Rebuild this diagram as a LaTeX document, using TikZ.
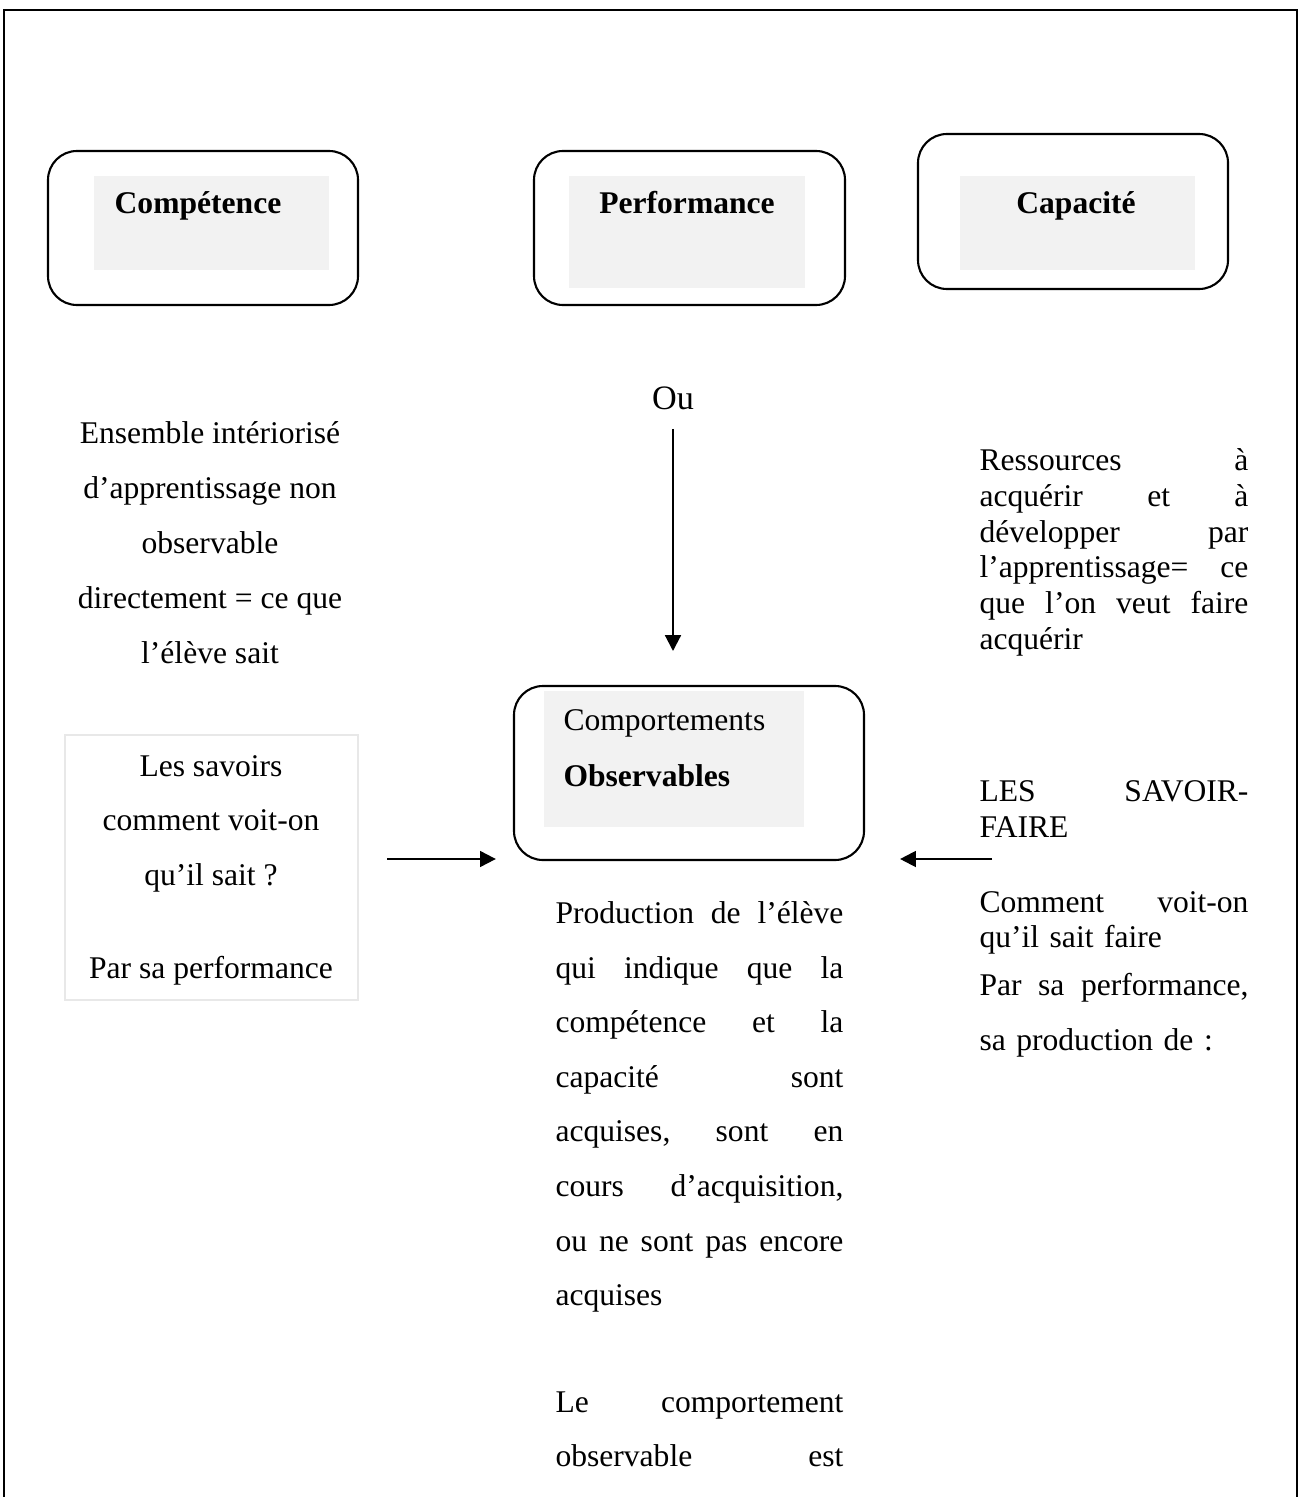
\documentclass[tikz,border=0pt]{standalone}
\usepackage{fontspec}
\setmainfont{Liberation Serif}
\usetikzlibrary{arrows.meta}
\definecolor{panelgrey}{HTML}{F2F2F2}
\definecolor{framegrey}{HTML}{E8E8E8}

\begin{document}
\begin{tikzpicture}[x=0.38pt,y=-0.38pt,
  font=\fontsize{12}{13.3}\selectfont,
  roundbox/.style 2 args={draw,line width=0.8pt,rounded corners=11pt,
    minimum width=#1*0.38pt,minimum height=#2*0.38pt,inner sep=0pt},
  panel/.style 2 args={fill=panelgrey,minimum width=#1*0.38pt,
    minimum height=#2*0.38pt,inner sep=0pt},
  headtext/.style={font=\fontsize{12}{13.3}\selectfont\bfseries,inner sep=0pt},
  bodytext/.style={inner sep=0pt,font=\fontsize{12}{#1}\selectfont},
  arr/.style={line width=0.8pt,-{Triangle[length=6pt,width=6pt]}}]
 \useasboundingbox (0,0) rectangle (1301,1497);
 \draw[line width=0.8pt](4,1497)--(4,10)--(1297,10)--(1297,1497);

 % the three notions
 \node[roundbox={310}{154}] (compbox) at (203,228) {};
 \node[panel={235}{94}] (comppanel) at (211.5,223) {};
 \node[headtext,anchor=base] (comp) at (198,214) {Compétence};
 \node[roundbox={311}{154}] (perfbox) at (689.5,228) {};
 \node[panel={236}{112}] (perfpanel) at (687,232) {};
 \node[headtext,anchor=base] (perf) at (687,214) {Performance};
 \node[roundbox={310}{155}] (capabox) at (1073,211.5) {};
 \node[panel={235}{94}] (capapanel) at (1077.5,223) {};
 \node[headtext,anchor=base] (capa) at (1076,214) {Capacité};

 % definitions
 \node[bodytext=20.9pt,align=center,anchor=north] (ensemble) at (210,421)
  {Ensemble intériorisé\\ d’apprentissage non\\ observable\\ directement = ce que\\ l’élève sait};
 \node[inner sep=0pt,font=\fontsize{13}{14}\selectfont] (ou) at (673,398) {Ou};
 \node[bodytext=13.6pt,text width=102.2pt,align=left,anchor=north west] (ressources) at (979,448)
  {Ressources \hfill à\\ acquérir \hfill et \hfill à\\ développer \hfill par\\ l’apprentissage= \hfill ce\\ que \hfill l’on \hfill veut \hfill faire\\ acquérir};

 % observable behaviour
 \node[roundbox={350}{174}] (obsbox) at (689,773) {};
 \node[panel={260}{136}] (obspanel) at (674,759) {};
 \node[bodytext=21.3pt,align=left,anchor=north west] (obs) at (563,709)
  {Comportements\\ \textbf{Observables}};

 \node[draw=framegrey,line width=0.4pt,minimum width=293*0.38pt,minimum height=265*0.38pt] (savbox) at (211.5,867.5) {};
 \node[bodytext=20.7pt,align=center,anchor=north] (savoirs) at (211,755)
  {Les savoirs\\ comment voit-on\\ qu’il sait~?\\[14.6pt] Par sa performance};

 \node[bodytext=13.6pt,text width=102.2pt,align=left,anchor=north west] (savfaire) at (979,780)
  {LES \hfill SAVOIR-\\ FAIRE};
 \node[bodytext=13.3pt,text width=102.2pt,align=left,anchor=north west] (comment) at (979,891)
  {Comment \hfill voit-on\\ qu’il sait faire};
 \node[bodytext=20.9pt,text width=102.2pt,align=left,anchor=north west] (parsa) at (979,973)
  {Par \hfill sa \hfill performance,\\ sa production de~:};

 \node[bodytext=20.75pt,text width=109.4pt,align=left,anchor=north west] (production) at (555,901)
  {Production \hfill de \hfill l’élève\\ qui \hfill indique \hfill que \hfill la\\ compétence \hfill et \hfill la\\
   capacité \hfill sont\\ acquises, \hfill sont \hfill en\\ cours \hfill d’acquisition,\\
   ou \hfill ne \hfill sont \hfill pas \hfill encore\\ acquises};
 \node[bodytext=20.75pt,text width=109.4pt,align=left,anchor=north west] (lecomp) at (555,1391)
  {Le \hfill comportement\\ observable \hfill est};

 % arrows
 \coordinate (lstart) at (387,859);
 \coordinate (rstart) at (992,859);
 \draw[arr,shorten <=7.2pt,shorten >=12.9pt] (ou) -- (ou |- obsbox.north);
 \draw[arr,shorten >=6.5pt] (lstart) -- (lstart -| obsbox.west);
 \draw[arr,shorten >=13.3pt] (rstart) -- (rstart -| obsbox.east);
\end{tikzpicture}
\end{document}
